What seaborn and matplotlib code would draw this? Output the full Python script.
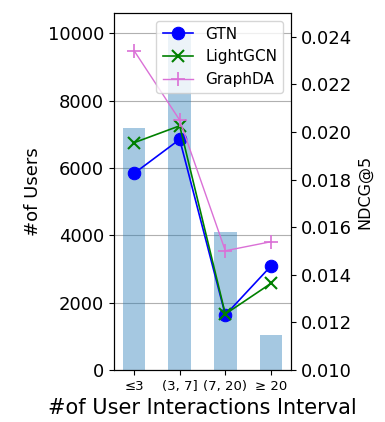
import numpy as np
import pandas as pd
import matplotlib
matplotlib.use("Agg")
import matplotlib.pyplot as plt
import seaborn as sns

categories = ["≤3", "(3, 7]", "(7, 20)", "≥ 20"]
num_users = [7180, 10000, 4100, 1040]
gtn = [0.01826, 0.01969, 0.01231, 0.01437]
lightgcn = [0.01955, 0.02026, 0.01235, 0.01364]
graphda = [0.02342, 0.02050, 0.01501, 0.01539]

plt.rcParams['font.family'] = ['DejaVu Sans']

fig = plt.figure(figsize=(3.85, 4.22), dpi=100)
ax = fig.add_axes([0.296, 0.1232, 0.46, 0.8460])

df_bar = pd.DataFrame({"cat": categories, "users": num_users})
sns.barplot(data=df_bar, x="cat", y="users", ax=ax, color="tab:blue",
            alpha=0.4, width=0.5, saturation=1)
ax.set_axisbelow(True)
ax.grid(True, axis="y", color="#b0b0b0", linewidth=0.8)
ax.set_ylim(0, 10600)
ax.set_xlim(-0.44, 3.44)
ax.set_ylabel("#of Users", fontsize=13)
ax.set_xlabel("#of User Interactions Interval", fontsize=15)
ax.tick_params(axis="y", labelsize=13)
ax.tick_params(axis="x", labelsize=9.5)
ax.set_yticks([0, 2000, 4000, 6000, 8000, 10000])

ax2 = ax.twinx()
pos = np.arange(len(categories))
sns.lineplot(x=pos, y=gtn, ax=ax2, color="blue", marker="o", markersize=9,
             markeredgecolor="blue", linewidth=1.2, label="GTN")
sns.lineplot(x=pos, y=lightgcn, ax=ax2, color="green", marker="x", markersize=8,
             markeredgecolor="green", markeredgewidth=1.5, linewidth=1.2, label="LightGCN")
sns.lineplot(x=pos, y=graphda, ax=ax2, color="orchid", marker="+", markersize=10,
             markeredgecolor="orchid", markeredgewidth=1.2, linewidth=1.0, label="GraphDA")
ax2.set_ylim(0.010, 0.025)
ticks_r = [0.010, 0.012, 0.014, 0.016, 0.018, 0.020, 0.022, 0.024]
ax2.set_yticks(ticks_r)
ax2.set_yticklabels([f"{v:.3f}" for v in ticks_r])
ax2.tick_params(axis="y", labelsize=13)
ax2.set_ylabel("NDCG@5", fontsize=11.5)
ax2.set_xlim(-0.44, 3.44)
ax2.legend(loc="upper right", fontsize=11, markerscale=1.0)

fig.savefig("out.png", dpi=100)
